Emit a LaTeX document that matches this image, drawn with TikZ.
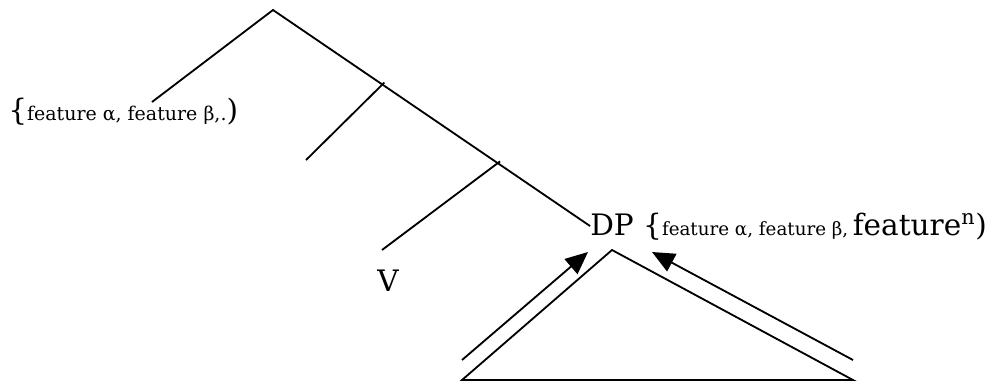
\documentclass[tikz,border=0pt]{standalone}
\usepackage{fontspec}
\setmainfont{DejaVu Serif}
\usetikzlibrary{arrows.meta,calc}
\newcommand{\bigtxt}{\fontsize{21}{23}\selectfont}
\newcommand{\midtxt}{\fontsize{13.5}{16}\selectfont}
\newcommand{\smalltxt}{\fontsize{13}{15}\selectfont}

\begin{document}
\begin{tikzpicture}[x=0.025cm,y=-0.025cm,
  branch/.style={line width=1.3pt},
  featarrow/.style={line width=1.3pt,-{Triangle[length=16pt,width=14pt]}},
  lbl/.style={anchor=base west,inner sep=0pt}]
\useasboundingbox (0,0) rectangle (990,383);
% Tree
\coordinate (root) at (273,10);
\coordinate (spec) at (152,102);
\coordinate (dpend) at (590,226);
\coordinate (b1) at ($(root)!0.345!(dpend)$);
\coordinate (b2) at ($(root)!0.71!(dpend)$);
\coordinate (b1top) at ($(b1)+(2,-2)$);
\coordinate (b2top) at ($(b2)+(2,-2)$);
\coordinate (left1) at (306,160);
\coordinate (vend) at (382,250);
\draw[branch] (spec) -- (root) -- (dpend);
\draw[branch] (b1top) -- (left1);
\draw[branch] (b2top) -- (vend);
\node[lbl] (featL) at (8,120) {{\bigtxt\{}{\midtxt feature α, feature β,.}{\bigtxt)}};
\node (v) at (388,281) {\bigtxt V};
\node[lbl] (dp) at (590,235) {{\bigtxt DP \{}{\smalltxt feature α, feature β,} {\bigtxt feature\textsuperscript{n})}};
% Triangle and arrows
\coordinate (apex) at (612,250);
\coordinate (tl) at (462,380);
\coordinate (tr) at (853,380);
\draw[branch] (apex) -- (tl) -- (tr) -- cycle;
\coordinate (al) at (462,360);
\coordinate (altip) at (588,252);
\coordinate (ar) at (853,360);
\coordinate (artip) at (652,252);
\draw[featarrow] (al) -- (altip);
\draw[featarrow] (ar) -- (artip);
\end{tikzpicture}
\end{document}
